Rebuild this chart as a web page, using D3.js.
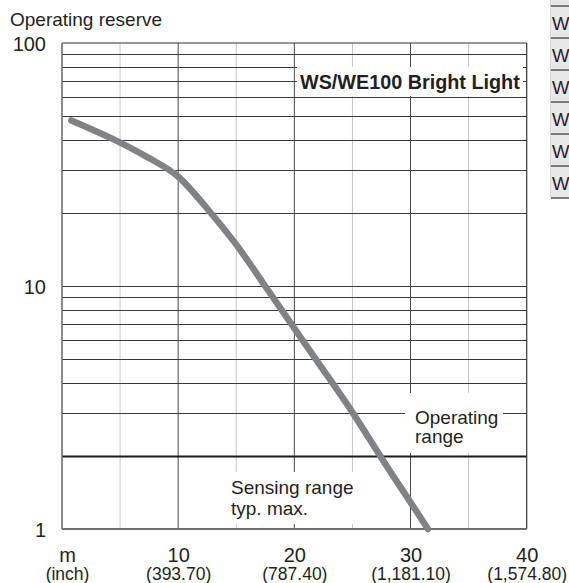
<!DOCTYPE html>
<html>
<head>
<meta charset="utf-8">
<script src="https://cdn.jsdelivr.net/npm/d3@7"></script>
<style>
  html, body { margin: 0; padding: 0; background: #fff; }
  svg { display: block; font-family: "Liberation Sans", Arial, sans-serif; }
</style>
</head>
<body>
<svg id="chart" width="569" height="583"></svg>
<script>
// ---- data ----
const distances = [0.8, 5, 8, 10, 12.5, 15, 17.5, 20, 22.5, 25, 27.5, 30, 31.5];
const reserve   = [48, 39.3, 32.5, 29.0, 20.8, 15, 9.95, 6.7, 4.5, 3.05, 1.95, 1.29, 1.0];
const xTicks = [0, 10, 20, 30, 40];
const xTickLabels = ["m", "10", "20", "30", "40"];
const xTickSubLabels = ["(inch)", "(393.70)", "(787.40)", "(1,181.10)", "(1,574.80)"];
const xMinorTicks = [5, 15, 25, 35];
const yTicks = [1, 10, 100];
const yGrid = [2, 3, 4, 5, 6, 7, 8, 9, 20, 30, 40, 50, 60, 70, 80, 90];
const operatingLimit = 2;
const title = "WS/WE100 Bright Light";
const yTitle = "Operating reserve";
const sideRows = ["W", "W", "W", "W", "W", "W"];

(function () {
const svg = d3.select("#chart");
const pLeft = 62, pRight = 526.7, pTop = 43, pBottom = 529;
const x = d3.scaleLinear().domain([0, 40]).range([pLeft, pRight]);
const y = d3.scaleLog().domain([1, 100]).range([pBottom, pTop]);
const textColor = "#231f20";

// side table fragment (cropped table at right edge)
const side = svg.append("g");
side.append("rect").attr("x", 551).attr("y", 0).attr("width", 20).attr("height", 198).attr("fill", "#e8e8e8");
side.append("line").attr("x1", 550.5).attr("x2", 550.5).attr("y1", 0).attr("y2", 198).attr("stroke", "#d6d6d6").attr("stroke-width", 1);
[6, 38, 70, 102, 134, 166, 198].forEach(yy => {
  side.append("line").attr("x1", 551).attr("x2", 569).attr("y1", yy).attr("y2", yy)
    .attr("stroke", "#7c7c7c").attr("stroke-width", 2);
});
sideRows.forEach((t, i) => {
  side.append("text").attr("x", 552).attr("y", 29.5 + i * 32).attr("font-size", 18.5)
    .attr("fill", "#222").text(t);
});

// grid
const grid = svg.append("g");
grid.selectAll("line.minx").data(xMinorTicks).join("line")
  .attr("x1", d => x(d)).attr("x2", d => x(d)).attr("y1", pTop).attr("y2", pBottom)
  .attr("stroke", "#c4c4c4").attr("stroke-width", 1);
grid.selectAll("line.majx").data(xTicks.slice(1, -1)).join("line")
  .attr("x1", d => x(d)).attr("x2", d => x(d)).attr("y1", pTop).attr("y2", pBottom)
  .attr("stroke", "#4a4a4a").attr("stroke-width", 1);
grid.selectAll("line.gy").data(yGrid.concat([10])).join("line")
  .attr("x1", pLeft).attr("x2", pRight).attr("y1", d => Math.round(y(d)) + 0.5).attr("y2", d => Math.round(y(d)) + 0.5)
  .attr("stroke", d => d === operatingLimit ? "#1a1a1a" : "#3a3a3a")
  .attr("stroke-width", d => d === operatingLimit ? 2.2 : 1);

// frame
grid.append("line").attr("x1", pLeft).attr("x2", pRight).attr("y1", pTop).attr("y2", pTop).attr("stroke", "#333").attr("stroke-width", 1.2);
grid.append("line").attr("x1", pRight).attr("x2", pRight).attr("y1", pTop).attr("y2", pBottom).attr("stroke", "#333").attr("stroke-width", 1.2);
grid.append("line").attr("x1", pLeft).attr("x2", pLeft).attr("y1", pTop).attr("y2", pBottom).attr("stroke", "#6e6e6e").attr("stroke-width", 1.6);
grid.append("line").attr("x1", pLeft).attr("x2", pRight).attr("y1", pBottom).attr("y2", pBottom).attr("stroke", "#6e6e6e").attr("stroke-width", 1.8);

// white label backgrounds
svg.append("rect").attr("x", 297).attr("y", 67).attr("width", 226).attr("height", 29).attr("fill", "#fff");
svg.append("rect").attr("x", 405).attr("y", 393).attr("width", 98).attr("height", 60).attr("fill", "#fff");
svg.append("rect").attr("x", 229).attr("y", 472).attr("width", 127).attr("height", 52).attr("fill", "#fff");

// title
svg.append("text").attr("x", 300).attr("y", 88.5).attr("font-size", 19.8).attr("font-weight", "bold")
  .attr("fill", textColor).text(title);

// region labels
const op = svg.append("text").attr("font-size", 19).attr("fill", textColor);
op.append("tspan").attr("x", 415).attr("y", 424).text("Operating");
op.append("tspan").attr("x", 415).attr("y", 443).text("range");
const sr = svg.append("text").attr("font-size", 19).attr("fill", textColor);
sr.append("tspan").attr("x", 231).attr("y", 494).text("Sensing range");
sr.append("tspan").attr("x", 231).attr("y", 515).text("typ. max.");

// curve
const pts = distances.map((d, i) => [d, reserve[i]]);
svg.append("path").datum(pts)
  .attr("d", d3.line().x(d => x(d[0])).y(d => y(d[1])).curve(d3.curveBasis))
  .attr("fill", "none").attr("stroke", "#818285").attr("stroke-width", 6.5)
  .attr("stroke-linecap", "round").attr("stroke-linejoin", "round");

// y axis labels
const yAxis = d3.axisLeft(y).tickValues(yTicks).tickSize(0).tickPadding(0).tickFormat(d3.format("d"));
const ya = svg.append("g").attr("transform", "translate(46,0)").call(yAxis);
ya.select(".domain").remove();
ya.selectAll("text").attr("font-size", 20).attr("font-family", "Liberation Sans, Arial, sans-serif")
  .attr("fill", textColor).attr("dy", "0.36em").attr("x", 0);

// x axis labels
const xAxis = d3.axisBottom(x).tickValues(xTicks).tickSize(0).tickPadding(0)
  .tickFormat((d, i) => xTickLabels[i]);
const xa = svg.append("g").attr("transform", `translate(0,${pBottom})`).call(xAxis);
xa.select(".domain").remove();
xa.selectAll(".tick").each(function (d, i) {
  const t = d3.select(this).select("text");
  t.attr("font-size", 20).attr("font-family", "Liberation Sans, Arial, sans-serif")
    .attr("fill", textColor).attr("y", 33).attr("dy", 0).attr("x", i === 0 ? 5 : 0);
  d3.select(this).append("text").attr("text-anchor", "middle").attr("x", i === 0 ? 5 : 0)
    .attr("y", 51).attr("font-size", 17.5).attr("font-family", "Liberation Sans, Arial, sans-serif")
    .attr("fill", textColor).text(xTickSubLabels[i]);
});

// y title
svg.append("text").attr("x", 10).attr("y", 26).attr("font-size", 19).attr("fill", textColor).text(yTitle);
})();
</script>
</body>
</html>
